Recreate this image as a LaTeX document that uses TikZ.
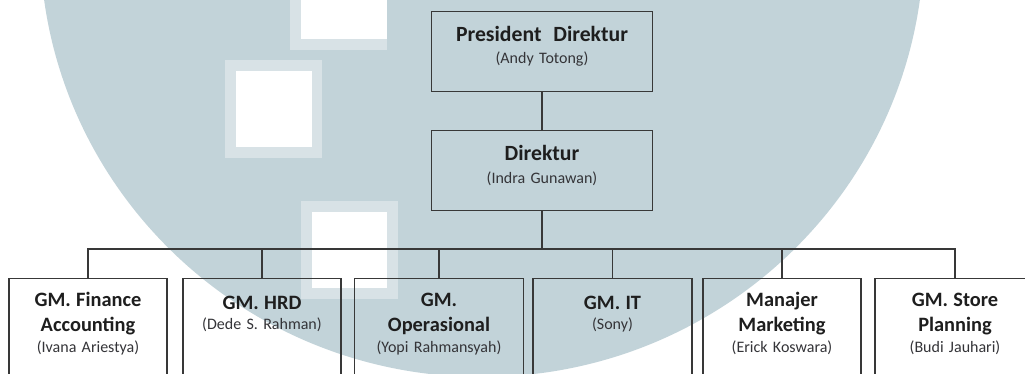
\documentclass[tikz,border=0pt]{standalone}
\usepackage{fontspec}
\setmainfont{Carlito}
\usepackage{tikz}

\definecolor{wm}{RGB}{194,211,217}
\definecolor{wmring}{RGB}{216,226,230}
\definecolor{garis}{RGB}{56,56,56}
\definecolor{judul}{RGB}{30,30,30}
\definecolor{nama}{RGB}{52,52,56}
\newcommand{\jab}[2][20.4]{{\fontsize{#1}{21}\selectfont\bfseries\color{judul}#2}}
\newcommand{\nm}[1]{{\fontsize{16}{21}\selectfont\color{nama}#1}}

\begin{document}
\begin{tikzpicture}[x=1pt,y=-1pt,
  kotak/.style={draw=garis,line width=1.3pt,inner sep=0pt,anchor=north,
    align=center,text width=#1,font=\fontsize{16}{21}\selectfont},
  atas/.style={text height=30pt,text depth=50pt},
  bawah/.style={text height=#1,text depth=110pt},
  hub/.style={draw=garis,line width=1.2pt}]
\useasboundingbox (0,0) rectangle (1025,374);
\clip (0,0) rectangle (1025,374);
\fill[white] (0,0) rectangle (1025,374);

% watermark
\fill[wm] (482,-60) ellipse[x radius=442,y radius=437];
\fill[wmring] (290,-10) rectangle (387,50);
\fill[white] (301,-10) rectangle (387,39);
\fill[wmring] (225,60) rectangle (322,158);
\fill[white] (236,71) rectangle (312,147);
\fill[wmring] (301,201) rectangle (398,299);
\fill[white] (312,212) rectangle (387,288);

\node[kotak=221,atas] (pd) at (542,11) {\jab[21.7]{President\hspace{.3em} Direktur}\\[1pt]\nm{(Andy Totong)}};
\node[kotak=221,atas] (dir) at (542,130) {\jab[21.7]{Direktur}\\[1.5pt]\nm{(Indra Gunawan)}};

\node[kotak=158,bawah=28pt] (fin) at (88,278) {\jab{GM. Finance}\\[4pt]\jab{Accounting}\\\nm{(Ivana Ariestya)}};
\node[kotak=158,bawah=31pt] (hrd) at (262,278) {\jab{GM. HRD}\\[-1pt]\nm{(Dede S. Rahman)}};
\node[kotak=169,bawah=28pt] (ops) at (439,278) {\jab{GM.}\\[4pt]\jab{Operasional}\\\nm{(Yopi Rahmansyah)}};
\node[kotak=159,bawah=31pt] (it) at (612.5,278) {\jab{GM. IT}\\[-1pt]\nm{(Sony)}};
\node[kotak=158,bawah=28pt] (mkt) at (782,278) {\jab{Manajer}\\[4pt]\jab{Marketing}\\\nm{(Erick Koswara)}};
\node[kotak=160,bawah=28pt] (store) at (955,278) {\jab{GM. Store}\\[4pt]\jab{Planning}\\\nm{(Budi Jauhari)}};

\coordinate (bus) at (0,249);
\draw[hub] (pd.south) -- (dir.north);
\draw[hub] (dir.south) -- (dir.south |- bus);
\draw[hub] (fin.north) -- (fin.north |- bus) -- (store.north |- bus) -- (store.north);
\foreach \b in {hrd,ops,it,mkt}
  \draw[hub] (\b.north) -- (\b.north |- bus);
\end{tikzpicture}
\end{document}
